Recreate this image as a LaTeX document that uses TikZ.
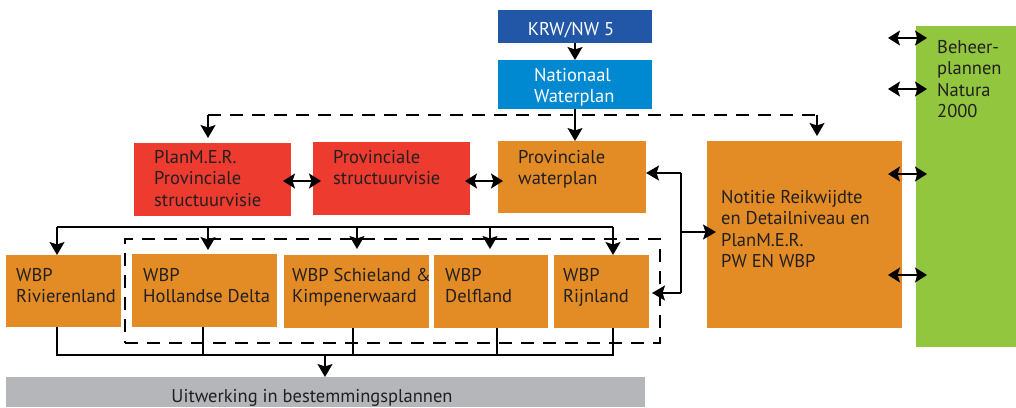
\documentclass[tikz,border=0pt]{standalone}
\usepackage{fontspec}
\setmainfont{PT Sans}
\usetikzlibrary{arrows.meta,calc}
\definecolor{dblue}{HTML}{2257A7}
\definecolor{lblue}{HTML}{0088D0}
\definecolor{redb}{HTML}{EE3B2F}
\definecolor{orab}{HTML}{E38C25}
\definecolor{greb}{HTML}{92C63E}
\definecolor{grab}{HTML}{B5B6B9}
\definecolor{txtc}{HTML}{231F20}
\newcommand{\lblfont}{\fontsize{18.5}{21.3}\selectfont}
\begin{document}
\begin{tikzpicture}[x=1pt,y=-1pt,
  box/.style={draw=none,inner sep=0pt,outer sep=0pt,anchor=north west},
  lbl/.style={anchor=north west,inner sep=0pt,align=left,font=\lblfont,text=txtc,execute at begin node=\strut},
  wlbl/.style={lbl,text=white},
  ln/.style={line width=1.6pt,draw=black},
  arr/.style={ln,-{Stealth[length=13pt,width=15pt,inset=2.5pt]}},
  darr/.style={ln,{Stealth[length=12pt,width=15pt,inset=2.5pt]}-{Stealth[length=12pt,width=15pt,inset=2.5pt]}},
  dln/.style={ln,dash pattern=on 13pt off 9pt}]
\useasboundingbox (0,0) rectangle (1016,407);

% boxes
\node[box,fill=dblue,minimum width=154pt,minimum height=33pt] (krw) at (498,10) {};
\node[box,fill=lblue,minimum width=154pt,minimum height=49pt] (nat) at (498,60) {};
\node[box,fill=redb,minimum width=157pt,minimum height=73pt] (pmer) at (134,143) {};
\node[box,fill=redb,minimum width=157pt,minimum height=73pt] (pstr) at (313,142) {};
\node[box,fill=orab,minimum width=148pt,minimum height=72pt] (pwat) at (498,141) {};
\node[box,fill=orab,minimum width=195pt,minimum height=187pt] (noti) at (707,141) {};
\node[box,fill=greb,minimum width=100pt,minimum height=321pt] (green) at (916,26) {};
\node[box,fill=orab,minimum width=115pt,minimum height=72pt] (riv) at (6,255) {};
\node[box,fill=orab,minimum width=145pt,minimum height=73pt] (hol) at (132,254) {};
\node[box,fill=orab,minimum width=145pt,minimum height=73pt] (sch) at (284,255) {};
\node[box,fill=orab,minimum width=114pt,minimum height=73pt] (del) at (434,255) {};
\node[box,fill=orab,minimum width=95pt,minimum height=73pt] (rij) at (554,255) {};
\node[box,fill=grab,minimum width=639pt,minimum height=30pt] (uit) at (6,377) {};
\node[box,dln,minimum width=535pt,minimum height=104pt] (grp) at (125,239) {};

% labels
\node[wlbl,anchor=base] (tkrw) at (571,35) {KRW/NW 5};
\node[wlbl] (tnat) at (534,68.1) {Nationaal\\Waterplan};
\node[lbl] (tpmer) at (154,150.1) {PlanM.E.R.\\Provinciale\\structuurvisie};
\node[lbl] (tpstr) at (333,150.1) {Provinciale\\structuurvisie};
\node[lbl] (tpwat) at (518,150.1) {Provinciale\\waterplan};
\node[lbl] (tnoti) at (721,190.1) {Notitie Reikwijdte\\en Detailniveau en\\PlanM.E.R.\\PW EN WBP};
\node[lbl] (tgreen) at (937,40.1) {Beheer-\\plannen\\Natura\\2000};
\node[lbl] (triv) at (16,268.1) {WBP\\Rivierenland};
\node[lbl] (thol) at (143,268.1) {WBP\\Hollandse Delta};
\node[lbl] (tsch) at (292,268.1) {WBP Schieland \&\\Kimpenerwaard};
\node[lbl] (tdel) at (445,268.1) {WBP\\Delfland};
\node[lbl] (trij) at (563,268.1) {WBP\\Rijnland};
\node[lbl,anchor=base] (tuit) at (312,402) {Uitwerking in bestemmingsplannen};

% top chain
\draw[arr] (krw) -- (nat);
\draw[arr] (nat.south) -- (nat.south |- pwat.north);
\coordinate (dL) at (208,115);
\coordinate (dR) at (817,115);
\draw[dln] (dL) -- (dR);
\draw[arr,shorten >=5pt] (dL) -- (dL |- pmer.north);
\draw[arr,shorten >=5pt] (dR) -- (dR |- noti.north);

% red/orange double arrows
\coordinate (r1a) at (283,181); \coordinate (r1b) at (321,181);
\coordinate (r2a) at (465,181); \coordinate (r2b) at (503,181);
\draw[darr] (r1a) -- (r1b);
\draw[darr] (r2a) -- (r2b);

% green double arrows
\coordinate (g1a) at (888,38);  \coordinate (g1b) at (927,38);
\coordinate (g2a) at (888,89);  \coordinate (g2b) at (927,89);
\coordinate (g3a) at (888,174); \coordinate (g3b) at (927,174);
\coordinate (g4a) at (888,275); \coordinate (g4b) at (927,275);
\draw[darr] (g1a) -- (g1b);
\draw[darr] (g2a) -- (g2b);
\draw[darr] (g3a) -- (g3b);
\draw[darr] (g4a) -- (g4b);

% right junction
\coordinate (jt) at (681,173);
\coordinate (jm) at (681,232);
\coordinate (jb) at (681,293);
\draw[ln] (jt) -- (jb);
\draw[arr] (jt) -- (pwat.east |- jt);
\draw[arr,shorten >=3pt] (jb) -- (rij.east |- jb);
\draw[arr,shorten >=-9pt] (jm) -- (noti.west |- jm);

% top bus to WBPs
\coordinate (t1) at (57,227);
\coordinate (t2) at (208,227);
\coordinate (t3) at (357,227);
\coordinate (t4) at (490,227);
\coordinate (t5) at (613,227);
\draw[ln] (t1) -- (t5);
\draw[arr] (t1) -- (t1 |- riv.north);
\draw[arr,shorten >=4pt] (t2) -- (t2 |- hol.north);
\draw[arr,shorten >=6pt] (t3) -- (t3 |- sch.north);
\draw[arr,shorten >=6pt] (t4) -- (t4 |- del.north);
\draw[arr] (t5) -- (t5 |- rij.north);

% bottom bus
\coordinate (b1) at (57,355);
\coordinate (b2) at (203,355);
\coordinate (b3) at (353,355);
\coordinate (b4) at (497,355);
\coordinate (b5) at (613,355);
\coordinate (bm) at (325,355);
\draw[ln] (b1 |- riv.south) -- (b1) -- (b5) -- (b5 |- rij.south);
\draw[ln] (b2 |- hol.south) -- (b2);
\draw[ln] (b3 |- sch.south) -- (b3);
\draw[ln] (b4 |- del.south) -- (b4);
\draw[arr] (bm) -- (bm |- uit.north);
\end{tikzpicture}
\end{document}
